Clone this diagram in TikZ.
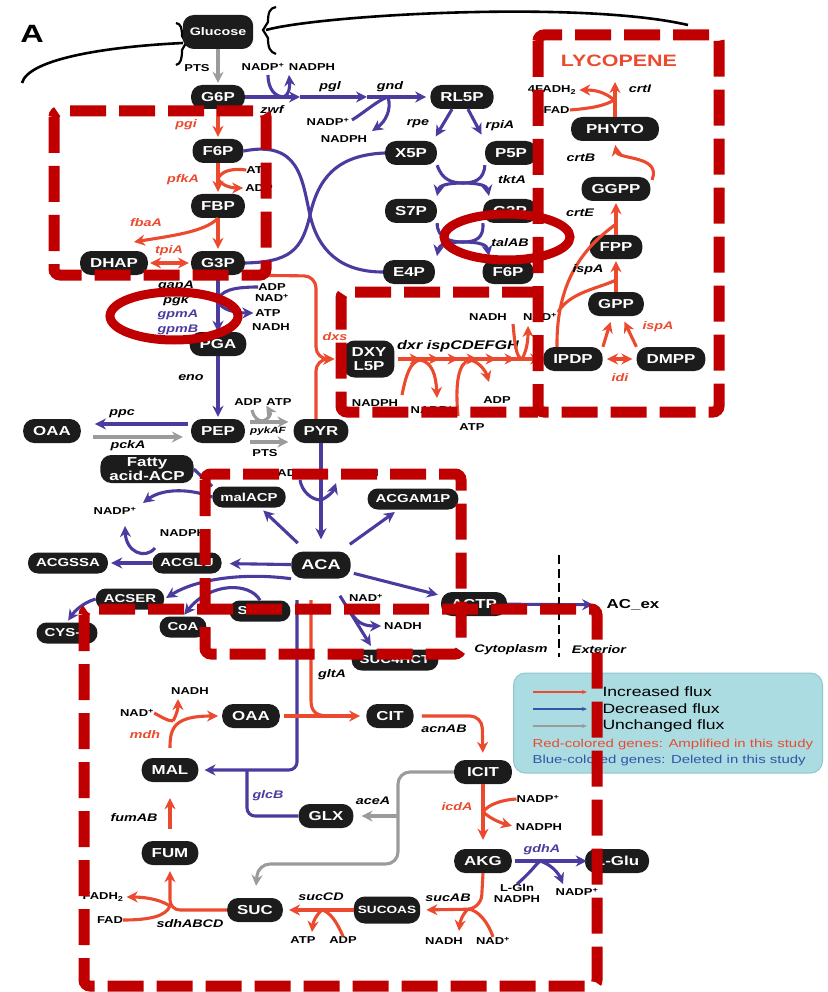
\documentclass[tikz,border=0pt]{standalone}
\usepackage{fontspec}
\setmainfont{Liberation Sans}[FakeStretch=1.3]
\usetikzlibrary{arrows.meta}
\usetikzlibrary{decorations.markings}

\definecolor{upred}{HTML}{EB4A2E}
\definecolor{dnblue}{HTML}{4B3B9E}
\definecolor{nogray}{HTML}{9B9B9B}
\definecolor{markred}{HTML}{C00000}
\definecolor{legbg}{HTML}{AADCE2}
\definecolor{legline}{HTML}{8FC6CC}
\definecolor{legblue}{HTML}{3553A8}
\definecolor{metfill}{HTML}{1C1C1C}

\tikzset{
  met/.style={fill=metfill, text=white, rounded corners=11pt, minimum height=24pt,
    inner xsep=10pt, inner ysep=1pt, align=center, font=\bfseries\fontsize{13}{14}\selectfont},
  smet/.style={met, minimum height=21pt, rounded corners=10pt, inner xsep=8pt, font=\bfseries\fontsize{11.5}{12}\selectfont},
  cof/.style={font=\bfseries\fontsize{10}{10}\selectfont, inner sep=0pt},
  gene/.style={font=\bfseries\itshape\fontsize{11}{11}\selectfont, inner sep=0pt},
  upgene/.style={gene, text=upred},
  dngene/.style={gene, text=dnblue},
  flux/.style={->, line width=3.1pt, shorten >=2pt},
  upflux/.style={flux, draw=upred},
  dnflux/.style={flux, draw=dnblue},
  noflux/.style={flux, draw=nogray},
  upline/.style={line width=3.1pt, draw=upred},
  dnline/.style={line width=3.1pt, draw=dnblue},
  noline/.style={line width=3.1pt, draw=nogray},
  hilite/.style={draw=markred, line width=11pt, dash pattern=on 36pt off 13pt, rounded corners=6pt},
  ring/.style={draw=markred, line width=9pt},
}

\begin{document}
\begin{tikzpicture}[x=1pt,y=-1pt,>={Stealth[length=11pt,width=11pt]}]
  \useasboundingbox (0,0) rectangle (827,992);

  % cell membrane
  \draw[line width=2.6pt] (22,83) .. controls (28,60) and (100,47) .. (183,43);
  \draw[line width=2.2pt] (176,23) .. controls (181,24) and (182,28) .. (182,36) -- (186,43) -- (182,50) .. controls (182,58) and (181,64) .. (176,65);
  \draw[line width=2.2pt] (276,7) .. controls (270,8) and (268,12) .. (268,22) -- (263,30) -- (268,38) .. controls (268,48) and (270,52) .. (276,54);
  \draw[line width=2.6pt] (266,30) .. controls (320,15) and (580,0) .. (688,25);
  \node[font=\bfseries\fontsize{25}{25}\selectfont] (panel) at (32,34) {A};

  % metabolites: glycolysis
  \node[met, font=\bfseries\fontsize{11}{12}\selectfont, minimum height=34pt, inner xsep=7pt] (glc) at (218,32) {Glucose};
  \node[met] (g6p) at (218,97) {G6P};
  \node[met] (f6p) at (218,151) {F6P};
  \node[met] (fbp) at (218,206) {FBP};
  \node[met] (g3p) at (218,263) {G3P};
  \node[met] (dhap) at (114,263) {DHAP};
  \node[met] (pga) at (218,344) {PGA};
  \node[met] (pep) at (218,431) {PEP};
  \node[met] (pyr) at (321,431) {PYR};
  \node[met] (oaa) at (52,431) {OAA};
  \node[met, inner xsep=9pt, minimum height=28pt, font=\bfseries\fontsize{13}{13.5}\selectfont] (fatty) at (147,469) {Fatty\\acid-ACP};
  \node[smet] (malacp) at (249,497) {malACP};
  \node[smet] (acgam) at (413,499) {ACGAM1P};
  \node[met, minimum height=27pt, rounded corners=12pt, font=\bfseries\fontsize{14}{14}\selectfont] (aca) at (321,565) {ACA};
  \node[smet] (acglu) at (187,563) {ACGLU};
  \node[smet] (acgssa) at (68,563) {ACGSSA};
  \node[smet] (acser) at (130,599) {ACSER};
  \node[smet] (cysl) at (67,633) {CYS-L};
  \node[smet] (coa) at (183,627) {CoA};
  \node[smet] (serl) at (260,611) {SER-L};
  \node[met] (actp) at (474,604) {ACTP};
  \node[smet] (suchct) at (395,660) {SUC4HCT};
  \node[font=\bfseries\fontsize{13}{13}\selectfont] (acex) at (633,605) {AC\_ex};

  % metabolites: pentose phosphate
  \node[met] (rl5p) at (462,97) {RL5P};
  \node[met] (x5p) at (411,153) {X5P};
  \node[met] (p5p) at (511,153) {P5P};
  \node[met] (s7p) at (411,211) {S7P};
  \node[met] (g3pb) at (510,211) {G3P};
  \node[met] (e4p) at (409,272) {E4P};
  \node[met] (f6pb) at (508,272) {F6P};

  % metabolites: lycopene
  \node[met, minimum height=37pt, inner xsep=8pt, font=\bfseries\fontsize{13}{14.5}\selectfont] (dxy) at (369,359) {DXY\\L5P};
  \node[met] (ipdp) at (573,359) {IPDP};
  \node[met] (dmpp) at (671,359) {DMPP};
  \node[met] (gpp) at (616,304) {GPP};
  \node[met] (fpp) at (616,247) {FPP};
  \node[met] (ggpp) at (616,189) {GGPP};
  \node[met, inner xsep=15pt] (phyto) at (615,129) {PHYTO};
  \coordinate (lyc) at (615,80);
  \node[text=upred, font=\bfseries\fontsize{16.5}{16.5}\selectfont] (lyctitle) at (619,61) {LYCOPENE};

  % metabolites: TCA cycle
  \node[met] (oaab) at (251,716) {OAA};
  \node[met] (cit) at (390,716) {CIT};
  \node[met, inner xsep=13pt] (icit) at (483,772) {ICIT};
  \node[met] (mal) at (170,770) {MAL};
  \node[met] (glx) at (326,816) {GLX};
  \node[met] (fum) at (170,853) {FUM};
  \node[met] (akg) at (483,861) {AKG};
  \node[met] (lglu) at (617,861) {L-Glu};
  \node[met] (suc) at (255,910) {SUC};
  \node[met, minimum height=27pt, inner xsep=4pt, font=\bfseries\fontsize{10.5}{11}\selectfont] (sucoas) at (387,910) {SUCOAS};

  % glycolysis
  \draw[noflux] (glc) -- (g6p);
  \node[cof] (pts1) at (197,68) {PTS};
  \draw[upflux] (g6p) -- (f6p);
  \node[upgene] at (186,125) {pgi};
  \draw[upflux] (f6p) -- (fbp);
  \node[upgene] at (183,180) {pfkA};
  \node[cof] (atp1) at (259,170) {ATP};
  \node[cof] (adp1) at (259,188) {ADP};
  \coordinate (pfk) at (218,179);
  \draw[upline] (atp1.west) .. controls (232,168) and (221,171) .. (pfk);
  \draw[upflux] (pfk) .. controls (222,186) and (232,188) .. (adp1.west);
  \draw[upflux] (fbp) -- (g3p);
  \coordinate (fba) at (134,242);
  \draw[upflux, shorten >=0pt] (fbp.south) .. controls (205,232) and (170,236) .. (fba);
  \node[upgene] at (146,223) {fbaA};
  \draw[upflux, <->, shorten <=2pt] (dhap) -- (g3p);
  \node[upgene] at (169,251) {tpiA};
  \draw[dnflux, shorten >=0pt] (g3p) -- (pga);
  \node[gene] at (176,286) {gapA};
  \node[gene] at (176,301) {pgk};
  \node[dngene] at (178,315) {gpmA};
  \node[dngene] at (178,330) {gpmB};
  \node[cof] (adp2) at (272,287) {ADP};
  \node[cof] (nad2) at (272,298) {NAD\textsuperscript{+}};
  \node[cof] (atp2) at (268,313) {ATP};
  \node[cof] (nadh2) at (271,327) {NADH};
  \coordinate (gap) at (218,301);
  \draw[dnline] (adp2.west) .. controls (232,287) and (220,291) .. (gap);
  \draw[dnflux] (gap) .. controls (221,310) and (236,313) .. (atp2.west);
  \draw[dnflux] (pga) -- (pep);
  \node[gene] at (191,378) {eno};
  \draw[dnflux, shorten >=14pt, shorten <=3pt] ([yshift=7pt]pep.west) -- ([yshift=7pt]oaa.east);
  \draw[noflux, shorten <=12pt, shorten >=8pt] ([yshift=-6pt]oaa.east) -- ([yshift=-6pt]pep.west);
  \node[gene] at (122,414) {ppc};
  \node[gene] at (128,446) {pckA};
  \draw[noflux, shorten <=5pt, shorten >=5pt] ([yshift=9pt]pep.east) -- ([yshift=9pt]pyr.west);
  \draw[noflux, shorten <=5pt, shorten >=5pt] ([yshift=-11pt]pep.east) -- ([yshift=-11pt]pyr.west);
  \node[cof] (adp3) at (248,402) {ADP};
  \node[cof] (atp3) at (279,402) {ATP};
  \coordinate (pyk) at (263,421);
  \draw[noline] (252,410) .. controls (254,418) and (258,421) .. (pyk);
  \draw[noflux, shorten >=0pt] (pyk) .. controls (268,419) and (272,415) .. (atp3.south west);
  \node[gene, font=\bfseries\itshape\fontsize{9}{9}\selectfont] at (268,431) {pykAF};
  \node[cof] (pts2) at (265,453) {PTS};

  % acetyl-CoA node
  \draw[dnflux, shorten >=12pt] (pyr) -- (aca);
  \node[cof] (nad3) at (285,473) {NAD\textsuperscript{+}};
  \node[cof] (nadh3) at (360,473) {NADH};
  \coordinate (pdh) at (321,500);
  \draw[dnline] (300,480) .. controls (302,492) and (312,500) .. (pdh);
  \draw[dnflux, shorten >=0pt] (pdh) .. controls (328,497) and (333,492) .. (336,483);
  \draw[dnflux, shorten <=12pt, shorten >=4pt] (aca) -- (malacp);
  \draw[dnflux, shorten <=12pt, shorten >=4pt] (aca) -- (acgam);
  \draw[dnflux, shorten >=8pt] (aca) -- (acglu);
  \draw[dnflux, shorten >=3pt] (acglu) -- (acgssa);
  \node[cof] (nadph4) at (183,533) {NADPH};
  \node[cof] (nadp4) at (115,511) {NADP\textsuperscript{+}};
  \draw[dnflux, shorten >=0pt] (155,548) .. controls (145,560) and (126,552) .. (125,526);
  \draw[dnflux, shorten >=0pt] (malacp.west) .. controls (185,487) and (160,490) .. (143,503);
  \draw[dnline] (fatty.east) -- (malacp.north west);
  \draw[dnflux] (aca.south west) .. controls (240,572) and (195,580) .. (acser.east);
  \draw[dnflux] (serl.north) .. controls (250,582) and (210,582) .. (coa.north);
  \draw[dnflux] (acser.west) .. controls (82,603) and (74,612) .. (cysl.north);
  \draw[dnflux, shorten <=3pt, shorten >=3pt] (aca) -- (actp);
  \draw[dnflux, shorten >=10pt] (actp) -- (acex);
  \coordinate (adh) at (352,614);
  \draw[dnflux, shorten <=20pt, shorten >=4pt] (aca) -- ([xshift=-22pt]suchct.north);
  \node[cof] (nad7) at (366,598) {NAD\textsuperscript{+}};
  \node[cof] (nadh7) at (403,626) {NADH};
  \draw[dnflux, shorten >=3pt] (adh) .. controls (358,624) and (366,626) .. (nadh7.west);

  % glyoxylate shunt and TCA cycle
  \coordinate (glcstart) at (297,600);
  \coordinate (glcturn) at (297,770);
  \coordinate (glcjoin) at (247,770);
  \draw[dnflux, rounded corners=8pt, shorten >=6pt] (glcstart) -- (glcturn) -- (mal);
  \draw[dnline, rounded corners=8pt] (glx.west) -- (247,816) -- (glcjoin);
  \node[dngene] at (268,796) {glcB};
  \coordinate (gltstart) at (311,600);
  \coordinate (gltj) at (330,716);
  \draw[upline] (gltstart) -- (311,700) .. controls (311,712) and (316,716) .. (gltj);
  \node[gene] at (332,675) {gltA};
  \draw[upflux, shorten >=6pt, shorten <=4pt] (oaab) -- (cit);
  \draw[upflux, rounded corners=12pt, shorten <=8pt, shorten >=7pt] (cit.east) -- (482,716) -- (icit.north);
  \node[gene] at (444,729) {acnAB};
  \draw[upflux, shorten >=9pt] (icit) -- (akg);
  \node[upgene] at (457,807) {icdA};
  \node[cof] (nadp13) at (538,799) {NADP\textsuperscript{+}};
  \node[cof] (nadph13) at (539,827) {NADPH};
  \coordinate (icd) at (483,812);
  \draw[upline] (nadp13.west) .. controls (500,800) and (488,805) .. (icd);
  \draw[upflux, shorten >=4pt] (icd) .. controls (490,818) and (498,822) .. (nadph13.west);
  \draw[dnflux, shorten <=3pt, shorten >=-2pt] (akg) -- (lglu);
  \node[dngene] at (542,850) {gdhA};
  \node[cof] (lgln) at (517,888) {L-Gln};
  \node[cof] (nadph12) at (517,899) {NADPH};
  \node[cof] (nadp12) at (577,892) {NADP\textsuperscript{+}};
  \coordinate (gdh) at (540,861);
  \draw[dnline] (lgln.north) .. controls (533,870) and (536,864) .. (gdh);
  \draw[dnflux, shorten >=0pt] (gdh) .. controls (550,864) and (558,872) .. (563,884);
  \draw[upflux, rounded corners=14pt, shorten >=6pt] (akg.south) -- (481,909) -- (sucoas.east);
  \node[gene] at (448,898) {sucAB};
  \node[cof] (nadh11) at (444,941) {NADH};
  \node[cof] (nad11) at (493,941) {NAD\textsuperscript{+}};
  \coordinate (suca) at (468,909);
  \draw[upline] (nad11.north) .. controls (488,922) and (478,910) .. (suca);
  \draw[upflux, shorten >=0pt] (suca) .. controls (462,915) and (460,922) .. (459,931);
  \draw[upflux, shorten >=6pt] (sucoas) -- (suc);
  \node[gene] at (321,897) {sucCD};
  \node[cof] (atp10) at (303,940) {ATP};
  \node[cof] (adp10) at (343,940) {ADP};
  \coordinate (succ) at (322,910);
  \draw[upline] (adp10.north) .. controls (337,922) and (330,912) .. (succ);
  \draw[upflux, shorten >=0pt] (succ) .. controls (316,915) and (313,922) .. (312,932);
  \draw[upflux, rounded corners=10pt, shorten >=6pt] (suc.west) -- (170,910) -- (fum.south);
  \node[gene] at (190,924) {sdhABCD};
  \node[cof] (fad9) at (110,920) {FAD};
  \node[cof] (fadh9) at (103,897) {FADH\textsubscript{2}};
  \coordinate (sdh) at (170,906);
  \draw[upline] (fad9.east) .. controls (150,920) and (166,916) .. (sdh);
  \draw[upflux, shorten >=3pt] (sdh) .. controls (158,898) and (140,897) .. (fadh9.east);
  \draw[upflux, shorten <=12pt, shorten >=16pt] (fum) -- (mal);
  \node[gene] at (134,818) {fumAB};
  \draw[upflux, shorten <=10pt, shorten >=4pt] (mal.north) .. controls (170,728) and (174,716) .. (oaab.west);
  \node[upgene] at (145,735) {mdh};
  \node[cof] (nad8) at (137,713) {NAD\textsuperscript{+}};
  \node[cof] (nadh8) at (190,691) {NADH};
  \coordinate (mdhj) at (173,721);
  \draw[upline] (nad8.east) .. controls (160,716) and (167,721) .. (mdhj);
  \draw[upflux, shorten >=0pt] (mdhj) .. controls (177,714) and (178,708) .. (178,699);
  \coordinate (acej) at (398,816);
  \draw[noflux, rounded corners=12pt, shorten >=12pt] (icit.west) -- (398,772) -- (398,864) -- (258,864) -- (suc.north);
  \draw[noflux, shorten >=8pt] (acej) -- (glx.east);
  \node[gene] at (373,801) {aceA};

  % pentose phosphate pathway
  \coordinate (zwfa) at (300,97);
  \coordinate (pgla) at (367,97);
  \draw[dnflux, shorten >=0pt] (g6p) -- (zwfa);
  \draw[dnflux, shorten >=0pt] (zwfa) -- (pgla);
  \draw[dnflux, shorten >=4pt] (pgla) -- (rl5p);
  \node[cof] (nadp14) at (263,67) {NADP\textsuperscript{+}};
  \node[cof] (nadph14) at (312,67) {NADPH};
  \coordinate (zwfj) at (284,97);
  \draw[dnline] (268,75) .. controls (268,90) and (276,97) .. (zwfj);
  \draw[dnflux, shorten >=0pt] (zwfj) .. controls (289,94) and (290,88) .. (289,75);
  \node[gene] at (272,110) {zwf};
  \node[gene] at (330,87) {pgl};
  \node[gene] at (390,87) {gnd};
  \node[cof] (nadp15) at (328,122) {NADP\textsuperscript{+}};
  \node[cof] (nadph15) at (344,139) {NADPH};
  \coordinate (gndj) at (388,97);
  \draw[dnline] (352,120) .. controls (365,112) and (378,100) .. (gndj);
  \draw[dnflux, shorten >=0pt] (gndj) .. controls (392,110) and (385,122) .. (372,131);
  \draw[dnflux, shorten <=0pt, shorten >=5pt] ([xshift=-10pt]rl5p.south) -- ([xshift=-4pt]x5p.north east);
  \draw[dnflux, shorten >=7pt] ([xshift=6pt]rl5p.south) -- (p5p.north west);
  \node[gene] at (418,124) {rpe};
  \node[gene] at (500,126) {rpiA};
  \coordinate (tkt) at (463,183);
  \draw[dnline] (x5p.south east) .. controls (442,180) and (452,183) .. (tkt) .. controls (474,183) and (484,180) .. (p5p.south west);
  \draw[dnflux, shorten >=0pt] (tkt) .. controls (446,183) and (439,186) .. (437,196);
  \draw[dnflux, shorten >=0pt] (tkt) .. controls (480,183) and (487,186) .. (489,196);
  \node[gene] at (512,180) {tktA};
  \coordinate (tal) at (463,242);
  \draw[dnline] (s7p.south east) .. controls (437,238) and (450,242) .. (tal) .. controls (476,242) and (484,238) .. (g3pb.south west);
  \draw[dnflux, shorten >=0pt] (tal) .. controls (446,242) and (439,245) .. (437,256);
  \draw[dnflux, shorten >=0pt] (tal) .. controls (480,242) and (487,245) .. (489,256);
  \node[gene] at (510,243) {talAB};
  \draw[dnline] (f6p.east) .. controls (300,140) and (302,180) .. (310,215) .. controls (318,250) and (340,272) .. (e4p.west);
  \draw[dnline] (x5p.west) .. controls (335,155) and (318,180) .. (310,215) .. controls (302,250) and (290,262) .. (g3p.east);

  % MEP pathway and lycopene
  \draw[upflux, rounded corners=12pt, shorten >=9pt] (g3p.south east) -- (316,276) -- (316,359) -- (dxy.west);
  \draw[upflux, rounded corners=12pt, shorten >=9pt] ([xshift=-5pt]pyr.north) -- (316,359) -- (dxy.west);
  \node[upgene] at (335,337) {dxs};
  \draw[upflux, shorten <=3pt, postaction={decorate},
    decoration={markings, mark=between positions 26pt and 125pt step 19pt with {\arrow{>}}}] (dxy) -- (ipdp);
  \node[gene, font=\bfseries\itshape\fontsize{12.5}{12.5}\selectfont] at (458,346) {dxr ispCDEFGH};
  \node[cof] (nadph16) at (375,403) {NADPH};
  \node[cof] (nadp16) at (432,410) {NADP\textsuperscript{+}};
  \coordinate (dxrj) at (420,360);
  \draw[upline] (402,395) .. controls (406,375) and (410,362) .. (dxrj);
  \draw[upflux, shorten >=0pt] (dxrj) .. controls (432,362) and (436,375) .. (437,398);
  \node[cof] (atp16) at (472,427) {ATP};
  \node[cof] (adp16) at (497,400) {ADP};
  \coordinate (ispj) at (470,360);
  \draw[upline] (458,416) .. controls (455,385) and (458,362) .. (ispj);
  \draw[upflux, shorten >=0pt] (ispj) .. controls (480,362) and (486,372) .. (489,382);
  \node[cof] (nadh16) at (488,317) {NADH};
  \node[cof] (nad16) at (540,317) {NAD\textsuperscript{+}};
  \coordinate (ispha) at (522,359);
  \draw[upline] (513,324) .. controls (515,345) and (516,357) .. (ispha);
  \draw[upflux, shorten >=0pt] (ispha) .. controls (527,350) and (528,340) .. (528,326);
  \draw[upflux, shorten >=6pt] (ipdp.north east) -- (gpp);
  \draw[upflux, shorten >=6pt] (dmpp.north west) -- (gpp);
  \draw[upflux, <->, shorten <=4pt, shorten >=4pt] (ipdp) -- (dmpp);
  \node[upgene] at (620,378) {idi};
  \node[upgene] at (658,327) {ispA};
  \draw[upflux] (gpp) -- (fpp);
  \draw[upflux] (fpp) -- (ggpp);
  \draw[upline] ([xshift=-16pt]ipdp.north) .. controls (556,270) and (595,240) .. (616,224);
  \draw[upline] (558,312) .. controls (570,292) and (600,288) .. (616,280);
  \node[gene] at (580,213) {crtE};
  \node[gene] at (588,270) {ispA};
  \draw[upflux, shorten >=1pt] (652,180) .. controls (662,155) and (618,160) .. (615,144);
  \node[gene] at (581,158) {crtB};
  \draw[upflux] (phyto) -- (lyc);
  \node[cof] (fadh17) at (552,90) {4FADH\textsubscript{2}};
  \node[cof] (fad17) at (553,110) {4FAD};
  \coordinate (crtj) at (614,100);
  \draw[upline] (fad17.east) .. controls (595,108) and (606,105) .. (crtj);
  \draw[upflux, shorten >=3pt] (crtj) .. controls (605,92) and (595,90) .. (fadh17.east);
  \node[gene] at (640,89) {crtI};

  % cytoplasm / exterior
  \draw[line width=2.5pt, dash pattern=on 9pt off 5pt] (559,555) -- (559,657);
  \node[font=\bfseries\itshape\fontsize{11}{11}\selectfont] (cyto) at (511,650) {Cytoplasm};
  \node[font=\bfseries\itshape\fontsize{11}{11}\selectfont] (extr) at (599,650) {Exterior};

  % legend
  \node[draw=legline, fill=legbg, line width=1pt, rounded corners=12pt, minimum width=309pt, minimum height=100pt] (legend) at (668,723) {};
  \draw[upred, line width=1.6pt, -{Stealth[length=5pt,width=4pt]}] (533,692) -- (587,692);
  \draw[legblue, line width=1.6pt, -{Stealth[length=5pt,width=4pt]}] (533,709) -- (587,709);
  \draw[nogray, line width=1.6pt, -{Stealth[length=5pt,width=4pt]}] (533,726) -- (587,726);
  \node[anchor=west, font=\fontsize{13.5}{13.5}\selectfont] at (599,692) {Increased flux};
  \node[anchor=west, font=\fontsize{13.5}{13.5}\selectfont] at (599,709) {Decreased flux};
  \node[anchor=west, font=\fontsize{13.5}{13.5}\selectfont] at (599,726) {Unchanged flux};
  \node[anchor=west, text=upred, font=\fontsize{11.5}{11.5}\selectfont] at (529,745) {Red-colored genes: Amplified in this study};
  \node[anchor=west, text=legblue, font=\fontsize{11.5}{11.5}\selectfont] at (529,761) {Blue-colored genes: Deleted in this study};

  % highlighted regions
  \draw[hilite] (54,111) rectangle (266,275);
  \draw[hilite] (538,35) rectangle (719,412);
  \draw[hilite] (538,292) -- (341,292) -- (341,412) -- (538,412);
  \draw[hilite] (205,474) rectangle (461,654);
  \draw[hilite] (84,609) rectangle (597,986);
  \draw[ring] (174,316) ellipse [x radius=64pt, y radius=24pt];
  \draw[ring] (507,237) ellipse [x radius=63pt, y radius=23pt];
\end{tikzpicture}
\end{document}
